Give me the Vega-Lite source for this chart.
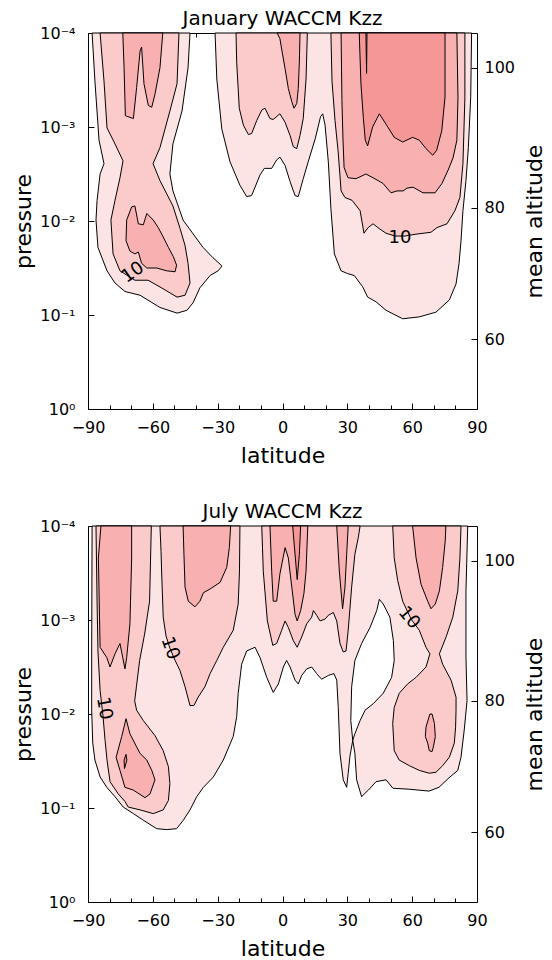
{
"$schema": "https://vega.github.io/schema/vega-lite/v6.json",
"padding": {"left": 12, "top": 8, "right": 2, "bottom": 2},
"bounds": "flush",
"spacing": 117,
"config": {
  "font": "DejaVu Sans",
  "view": {"stroke": "black", "strokeWidth": 1},
  "axis": {"labelColor": "black", "tickColor": "black", "titleColor": "black", "titleFontWeight": "normal", "labelFontSize": 16, "titleFontSize": 22, "domain": false, "grid": false, "tickWidth": 1, "labelFlush": false, "labelOverlap": false},
  "title": {"fontSize": 20, "fontWeight": "normal", "color": "black"}
},
"datasets": {
"jan": [
{"poly":"A1","lvl":1,"lat":-88.1,"lp":-4.00},{"poly":"A1","lvl":1,"lat":-86.8,"lp":-3.49},{"poly":"A1","lvl":1,"lat":-84.9,"lp":-2.86},{"poly":"A1","lvl":1,"lat":-82.6,"lp":-2.61},{"poly":"A1","lvl":1,"lat":-84.4,"lp":-2.50},{"poly":"A1","lvl":1,"lat":-85.8,"lp":-2.22},{"poly":"A1","lvl":1,"lat":-86.3,"lp":-2.01},{"poly":"A1","lvl":1,"lat":-85.4,"lp":-1.72},{"poly":"A1","lvl":1,"lat":-81.2,"lp":-1.47},{"poly":"A1","lvl":1,"lat":-77.5,"lp":-1.34},{"poly":"A1","lvl":1,"lat":-72.9,"lp":-1.25},{"poly":"A1","lvl":1,"lat":-65.9,"lp":-1.21},{"poly":"A1","lvl":1,"lat":-56.7,"lp":-1.08},{"poly":"A1","lvl":1,"lat":-48.8,"lp":-1.02},{"poly":"A1","lvl":1,"lat":-44.2,"lp":-1.05},{"poly":"A1","lvl":1,"lat":-41.4,"lp":-1.13},{"poly":"A1","lvl":1,"lat":-38.2,"lp":-1.29},{"poly":"A1","lvl":1,"lat":-33.5,"lp":-1.42},{"poly":"A1","lvl":1,"lat":-29.8,"lp":-1.47},{"poly":"A1","lvl":1,"lat":-28.0,"lp":-1.52},{"poly":"A1","lvl":1,"lat":-29.8,"lp":-1.56},{"poly":"A1","lvl":1,"lat":-32.2,"lp":-1.61},{"poly":"A1","lvl":1,"lat":-36.8,"lp":-1.72},{"poly":"A1","lvl":1,"lat":-41.9,"lp":-1.88},{"poly":"A1","lvl":1,"lat":-46.0,"lp":-2.01},{"poly":"A1","lvl":1,"lat":-50.7,"lp":-2.32},{"poly":"A1","lvl":1,"lat":-52.1,"lp":-2.50},{"poly":"A1","lvl":1,"lat":-50.7,"lp":-2.82},{"poly":"A1","lvl":1,"lat":-46.5,"lp":-3.17},{"poly":"A1","lvl":1,"lat":-43.7,"lp":-3.63},{"poly":"A1","lvl":1,"lat":-42.8,"lp":-4.00},
{"poly":"B1","lvl":1,"lat":-31.2,"lp":-4.00},{"poly":"B1","lvl":1,"lat":-30.4,"lp":-3.51},{"poly":"B1","lvl":1,"lat":-28.1,"lp":-2.98},{"poly":"B1","lvl":1,"lat":-24.3,"lp":-2.63},{"poly":"B1","lvl":1,"lat":-19.7,"lp":-2.38},{"poly":"B1","lvl":1,"lat":-16.6,"lp":-2.26},{"poly":"B1","lvl":1,"lat":-14.3,"lp":-2.27},{"poly":"B1","lvl":1,"lat":-10.4,"lp":-2.49},{"poly":"B1","lvl":1,"lat":-8.4,"lp":-2.56},{"poly":"B1","lvl":1,"lat":-5.0,"lp":-2.56},{"poly":"B1","lvl":1,"lat":-2.7,"lp":-2.65},{"poly":"B1","lvl":1,"lat":-1.2,"lp":-2.68},{"poly":"B1","lvl":1,"lat":1.2,"lp":-2.59},{"poly":"B1","lvl":1,"lat":3.5,"lp":-2.42},{"poly":"B1","lvl":1,"lat":5.8,"lp":-2.27},{"poly":"B1","lvl":1,"lat":7.3,"lp":-2.26},{"poly":"B1","lvl":1,"lat":9.6,"lp":-2.45},{"poly":"B1","lvl":1,"lat":11.9,"lp":-2.63},{"poly":"B1","lvl":1,"lat":15.2,"lp":-2.88},{"poly":"B1","lvl":1,"lat":17.6,"lp":-3.11},{"poly":"B1","lvl":1,"lat":18.6,"lp":-3.14},{"poly":"B1","lvl":1,"lat":19.7,"lp":-3.02},{"poly":"B1","lvl":1,"lat":21.2,"lp":-2.63},{"poly":"B1","lvl":1,"lat":22.4,"lp":-2.13},{"poly":"B1","lvl":1,"lat":24.0,"lp":-1.65},{"poly":"B1","lvl":1,"lat":27.1,"lp":-1.47},{"poly":"B1","lvl":1,"lat":30.2,"lp":-1.44},{"poly":"B1","lvl":1,"lat":33.2,"lp":-1.42},{"poly":"B1","lvl":1,"lat":37.1,"lp":-1.30},{"poly":"B1","lvl":1,"lat":39.4,"lp":-1.19},{"poly":"B1","lvl":1,"lat":43.3,"lp":-1.14},{"poly":"B1","lvl":1,"lat":47.9,"lp":-1.05},{"poly":"B1","lvl":1,"lat":55.6,"lp":-0.96},{"poly":"B1","lvl":1,"lat":63.3,"lp":-0.98},{"poly":"B1","lvl":1,"lat":71.0,"lp":-1.03},{"poly":"B1","lvl":1,"lat":77.2,"lp":-1.16},{"poly":"B1","lvl":1,"lat":80.3,"lp":-1.33},{"poly":"B1","lvl":1,"lat":81.7,"lp":-1.55},{"poly":"B1","lvl":1,"lat":82.6,"lp":-1.79},{"poly":"B1","lvl":1,"lat":83.5,"lp":-2.11},{"poly":"B1","lvl":1,"lat":84.9,"lp":-2.43},{"poly":"B1","lvl":1,"lat":86.0,"lp":-2.78},{"poly":"B1","lvl":1,"lat":87.1,"lp":-3.32},{"poly":"B1","lvl":1,"lat":87.5,"lp":-4.00},
{"poly":"A2","lvl":2,"lat":-84.4,"lp":-4.00},{"poly":"A2","lvl":2,"lat":-82.6,"lp":-3.49},{"poly":"A2","lvl":2,"lat":-81.2,"lp":-2.99},{"poly":"A2","lvl":2,"lat":-77.5,"lp":-2.82},{"poly":"A2","lvl":2,"lat":-73.8,"lp":-2.64},{"poly":"A2","lvl":2,"lat":-75.2,"lp":-2.46},{"poly":"A2","lvl":2,"lat":-77.5,"lp":-2.22},{"poly":"A2","lvl":2,"lat":-79.4,"lp":-2.01},{"poly":"A2","lvl":2,"lat":-78.4,"lp":-1.65},{"poly":"A2","lvl":2,"lat":-75.2,"lp":-1.47},{"poly":"A2","lvl":2,"lat":-68.3,"lp":-1.37},{"poly":"A2","lvl":2,"lat":-62.2,"lp":-1.37},{"poly":"A2","lvl":2,"lat":-55.3,"lp":-1.28},{"poly":"A2","lvl":2,"lat":-48.8,"lp":-1.19},{"poly":"A2","lvl":2,"lat":-45.1,"lp":-1.21},{"poly":"A2","lvl":2,"lat":-42.8,"lp":-1.34},{"poly":"A2","lvl":2,"lat":-43.7,"lp":-1.55},{"poly":"A2","lvl":2,"lat":-45.1,"lp":-1.74},{"poly":"A2","lvl":2,"lat":-47.4,"lp":-1.92},{"poly":"A2","lvl":2,"lat":-50.7,"lp":-2.16},{"poly":"A2","lvl":2,"lat":-56.7,"lp":-2.43},{"poly":"A2","lvl":2,"lat":-59.9,"lp":-2.61},{"poly":"A2","lvl":2,"lat":-56.7,"lp":-2.78},{"poly":"A2","lvl":2,"lat":-52.1,"lp":-3.17},{"poly":"A2","lvl":2,"lat":-48.8,"lp":-3.46},{"poly":"A2","lvl":2,"lat":-47.9,"lp":-4.00},
{"poly":"B2","lvl":2,"lat":-21.5,"lp":-4.00},{"poly":"B2","lvl":2,"lat":-21.2,"lp":-3.69},{"poly":"B2","lvl":2,"lat":-20.0,"lp":-3.20},{"poly":"B2","lvl":2,"lat":-18.1,"lp":-3.02},{"poly":"B2","lvl":2,"lat":-15.8,"lp":-2.92},{"poly":"B2","lvl":2,"lat":-14.3,"lp":-2.93},{"poly":"B2","lvl":2,"lat":-11.9,"lp":-3.07},{"poly":"B2","lvl":2,"lat":-9.6,"lp":-3.18},{"poly":"B2","lvl":2,"lat":-8.1,"lp":-3.20},{"poly":"B2","lvl":2,"lat":-5.8,"lp":-3.09},{"poly":"B2","lvl":2,"lat":-4.3,"lp":-3.08},{"poly":"B2","lvl":2,"lat":-1.2,"lp":-3.14},{"poly":"B2","lvl":2,"lat":1.2,"lp":-3.05},{"poly":"B2","lvl":2,"lat":3.5,"lp":-2.91},{"poly":"B2","lvl":2,"lat":5.0,"lp":-2.79},{"poly":"B2","lvl":2,"lat":6.6,"lp":-2.77},{"poly":"B2","lvl":2,"lat":8.1,"lp":-2.91},{"poly":"B2","lvl":2,"lat":9.6,"lp":-3.09},{"poly":"B2","lvl":2,"lat":10.9,"lp":-3.51},{"poly":"B2","lvl":2,"lat":11.5,"lp":-4.00},
{"poly":"C2","lvl":2,"lat":22.4,"lp":-4.00},{"poly":"C2","lvl":2,"lat":22.9,"lp":-3.49},{"poly":"C2","lvl":2,"lat":24.3,"lp":-3.07},{"poly":"C2","lvl":2,"lat":25.7,"lp":-2.75},{"poly":"C2","lvl":2,"lat":26.6,"lp":-2.48},{"poly":"C2","lvl":2,"lat":27.1,"lp":-2.32},{"poly":"C2","lvl":2,"lat":28.9,"lp":-2.25},{"poly":"C2","lvl":2,"lat":32.2,"lp":-2.22},{"poly":"C2","lvl":2,"lat":35.9,"lp":-2.11},{"poly":"C2","lvl":2,"lat":37.7,"lp":-1.87},{"poly":"C2","lvl":2,"lat":39.6,"lp":-1.93},{"poly":"C2","lvl":2,"lat":41.9,"lp":-1.97},{"poly":"C2","lvl":2,"lat":44.7,"lp":-1.92},{"poly":"C2","lvl":2,"lat":47.9,"lp":-1.87},{"poly":"C2","lvl":2,"lat":52.1,"lp":-1.84},{"poly":"C2","lvl":2,"lat":56.7,"lp":-1.84},{"poly":"C2","lvl":2,"lat":61.8,"lp":-1.86},{"poly":"C2","lvl":2,"lat":68.7,"lp":-1.88},{"poly":"C2","lvl":2,"lat":71.5,"lp":-1.93},{"poly":"C2","lvl":2,"lat":76.1,"lp":-1.97},{"poly":"C2","lvl":2,"lat":79.8,"lp":-2.11},{"poly":"C2","lvl":2,"lat":82.1,"lp":-2.25},{"poly":"C2","lvl":2,"lat":83.5,"lp":-2.61},{"poly":"C2","lvl":2,"lat":84.4,"lp":-3.31},{"poly":"C2","lvl":2,"lat":84.4,"lp":-4.00},
{"poly":"A3","lvl":3,"lat":-73.9,"lp":-4.00},{"poly":"A3","lvl":3,"lat":-73.3,"lp":-3.63},{"poly":"A3","lvl":3,"lat":-72.7,"lp":-3.12},{"poly":"A3","lvl":3,"lat":-69.0,"lp":-3.09},{"poly":"A3","lvl":3,"lat":-67.5,"lp":-3.42},{"poly":"A3","lvl":3,"lat":-65.9,"lp":-3.81},{"poly":"A3","lvl":3,"lat":-65.2,"lp":-3.85},{"poly":"A3","lvl":3,"lat":-64.1,"lp":-3.46},{"poly":"A3","lvl":3,"lat":-62.1,"lp":-3.23},{"poly":"A3","lvl":3,"lat":-60.5,"lp":-3.21},{"poly":"A3","lvl":3,"lat":-59.0,"lp":-3.35},{"poly":"A3","lvl":3,"lat":-56.7,"lp":-3.63},{"poly":"A3","lvl":3,"lat":-55.4,"lp":-4.00},
{"poly":"A3b","lvl":3,"lat":-72.1,"lp":-2.01},{"poly":"A3b","lvl":3,"lat":-69.8,"lp":-2.15},{"poly":"A3b","lvl":3,"lat":-68.3,"lp":-2.16},{"poly":"A3b","lvl":3,"lat":-66.7,"lp":-1.97},{"poly":"A3b","lvl":3,"lat":-64.4,"lp":-1.96},{"poly":"A3b","lvl":3,"lat":-62.8,"lp":-2.08},{"poly":"A3b","lvl":3,"lat":-59.8,"lp":-2.01},{"poly":"A3b","lvl":3,"lat":-57.5,"lp":-1.93},{"poly":"A3b","lvl":3,"lat":-55.2,"lp":-1.83},{"poly":"A3b","lvl":3,"lat":-52.8,"lp":-1.72},{"poly":"A3b","lvl":3,"lat":-50.5,"lp":-1.62},{"poly":"A3b","lvl":3,"lat":-49.0,"lp":-1.53},{"poly":"A3b","lvl":3,"lat":-49.7,"lp":-1.46},{"poly":"A3b","lvl":3,"lat":-53.6,"lp":-1.47},{"poly":"A3b","lvl":3,"lat":-58.2,"lp":-1.50},{"poly":"A3b","lvl":3,"lat":-62.8,"lp":-1.50},{"poly":"A3b","lvl":3,"lat":-65.2,"lp":-1.55},{"poly":"A3b","lvl":3,"lat":-66.7,"lp":-1.67},{"poly":"A3b","lvl":3,"lat":-68.3,"lp":-1.65},{"poly":"A3b","lvl":3,"lat":-70.6,"lp":-1.68},{"poly":"A3b","lvl":3,"lat":-72.4,"lp":-1.79},
{"poly":"B3","lvl":3,"lat":-2.5,"lp":-4.00},{"poly":"B3","lvl":3,"lat":-1.2,"lp":-3.94},{"poly":"B3","lvl":3,"lat":-0.4,"lp":-3.83},{"poly":"B3","lvl":3,"lat":1.2,"lp":-3.62},{"poly":"B3","lvl":3,"lat":2.7,"lp":-3.41},{"poly":"B3","lvl":3,"lat":4.3,"lp":-3.27},{"poly":"B3","lvl":3,"lat":5.3,"lp":-3.20},{"poly":"B3","lvl":3,"lat":6.6,"lp":-3.25},{"poly":"B3","lvl":3,"lat":7.3,"lp":-3.41},{"poly":"B3","lvl":3,"lat":7.8,"lp":-3.69},{"poly":"B3","lvl":3,"lat":8.1,"lp":-4.00},
{"poly":"C3","lvl":3,"lat":27.1,"lp":-4.00},{"poly":"C3","lvl":3,"lat":27.5,"lp":-3.28},{"poly":"C3","lvl":3,"lat":28.0,"lp":-2.86},{"poly":"C3","lvl":3,"lat":28.5,"lp":-2.57},{"poly":"C3","lvl":3,"lat":30.3,"lp":-2.46},{"poly":"C3","lvl":3,"lat":34.0,"lp":-2.45},{"poly":"C3","lvl":3,"lat":38.6,"lp":-2.50},{"poly":"C3","lvl":3,"lat":41.9,"lp":-2.46},{"poly":"C3","lvl":3,"lat":46.5,"lp":-2.40},{"poly":"C3","lvl":3,"lat":50.2,"lp":-2.30},{"poly":"C3","lvl":3,"lat":53.0,"lp":-2.32},{"poly":"C3","lvl":3,"lat":55.8,"lp":-2.32},{"poly":"C3","lvl":3,"lat":57.6,"lp":-2.35},{"poly":"C3","lvl":3,"lat":60.4,"lp":-2.36},{"poly":"C3","lvl":3,"lat":65.0,"lp":-2.30},{"poly":"C3","lvl":3,"lat":70.6,"lp":-2.30},{"poly":"C3","lvl":3,"lat":73.8,"lp":-2.40},{"poly":"C3","lvl":3,"lat":76.6,"lp":-2.54},{"poly":"C3","lvl":3,"lat":78.9,"lp":-2.67},{"poly":"C3","lvl":3,"lat":80.7,"lp":-2.86},{"poly":"C3","lvl":3,"lat":81.2,"lp":-3.31},{"poly":"C3","lvl":3,"lat":80.7,"lp":-4.00},
{"poly":"C4","lvl":4,"lat":35.5,"lp":-4.00},{"poly":"C4","lvl":4,"lat":36.3,"lp":-3.46},{"poly":"C4","lvl":4,"lat":37.4,"lp":-3.10},{"poly":"C4","lvl":4,"lat":38.3,"lp":-2.86},{"poly":"C4","lvl":4,"lat":39.4,"lp":-2.80},{"poly":"C4","lvl":4,"lat":41.7,"lp":-3.00},{"poly":"C4","lvl":4,"lat":44.8,"lp":-3.14},{"poly":"C4","lvl":4,"lat":47.9,"lp":-3.03},{"poly":"C4","lvl":4,"lat":51.7,"lp":-2.89},{"poly":"C4","lvl":4,"lat":55.6,"lp":-2.84},{"poly":"C4","lvl":4,"lat":60.2,"lp":-2.89},{"poly":"C4","lvl":4,"lat":63.3,"lp":-2.86},{"poly":"C4","lvl":4,"lat":66.4,"lp":-2.77},{"poly":"C4","lvl":4,"lat":69.5,"lp":-2.70},{"poly":"C4","lvl":4,"lat":71.3,"lp":-2.75},{"poly":"C4","lvl":4,"lat":73.7,"lp":-2.96},{"poly":"C4","lvl":4,"lat":75.2,"lp":-3.32},{"poly":"C4","lvl":4,"lat":75.2,"lp":-4.00},{"poly":"C4","lvl":4,"lat":39.1,"lp":-4.00},{"poly":"C4","lvl":4,"lat":38.9,"lp":-3.57},{"poly":"C4","lvl":4,"lat":38.6,"lp":-4.00}
],
"jul": [
{"poly":"L1","lvl":1,"lat":-88.1,"lp":-4.00},{"poly":"L1","lvl":1,"lat":-88.3,"lp":-2.67},{"poly":"L1","lvl":1,"lat":-88.3,"lp":-2.04},{"poly":"L1","lvl":1,"lat":-87.8,"lp":-1.69},{"poly":"L1","lvl":1,"lat":-86.8,"lp":-1.51},{"poly":"L1","lvl":1,"lat":-84.4,"lp":-1.33},{"poly":"L1","lvl":1,"lat":-81.3,"lp":-1.22},{"poly":"L1","lvl":1,"lat":-77.5,"lp":-1.12},{"poly":"L1","lvl":1,"lat":-73.7,"lp":-1.01},{"poly":"L1","lvl":1,"lat":-69.0,"lp":-0.94},{"poly":"L1","lvl":1,"lat":-64.4,"lp":-0.87},{"poly":"L1","lvl":1,"lat":-58.2,"lp":-0.78},{"poly":"L1","lvl":1,"lat":-53.6,"lp":-0.77},{"poly":"L1","lvl":1,"lat":-49.0,"lp":-0.78},{"poly":"L1","lvl":1,"lat":-45.9,"lp":-0.87},{"poly":"L1","lvl":1,"lat":-42.8,"lp":-0.98},{"poly":"L1","lvl":1,"lat":-39.7,"lp":-1.12},{"poly":"L1","lvl":1,"lat":-36.6,"lp":-1.22},{"poly":"L1","lvl":1,"lat":-32.0,"lp":-1.33},{"poly":"L1","lvl":1,"lat":-27.4,"lp":-1.51},{"poly":"L1","lvl":1,"lat":-22.8,"lp":-1.76},{"poly":"L1","lvl":1,"lat":-21.2,"lp":-1.97},{"poly":"L1","lvl":1,"lat":-20.5,"lp":-2.22},{"poly":"L1","lvl":1,"lat":-18.9,"lp":-2.53},{"poly":"L1","lvl":1,"lat":-16.6,"lp":-2.67},{"poly":"L1","lvl":1,"lat":-12.7,"lp":-2.71},{"poly":"L1","lvl":1,"lat":-10.4,"lp":-2.60},{"poly":"L1","lvl":1,"lat":-7.3,"lp":-2.39},{"poly":"L1","lvl":1,"lat":-4.3,"lp":-2.23},{"poly":"L1","lvl":1,"lat":-1.9,"lp":-2.32},{"poly":"L1","lvl":1,"lat":0.4,"lp":-2.50},{"poly":"L1","lvl":1,"lat":1.9,"lp":-2.57},{"poly":"L1","lvl":1,"lat":3.5,"lp":-2.50},{"poly":"L1","lvl":1,"lat":5.8,"lp":-2.36},{"poly":"L1","lvl":1,"lat":7.3,"lp":-2.32},{"poly":"L1","lvl":1,"lat":8.9,"lp":-2.41},{"poly":"L1","lvl":1,"lat":11.2,"lp":-2.48},{"poly":"L1","lvl":1,"lat":13.5,"lp":-2.50},{"poly":"L1","lvl":1,"lat":15.8,"lp":-2.43},{"poly":"L1","lvl":1,"lat":18.1,"lp":-2.37},{"poly":"L1","lvl":1,"lat":21.2,"lp":-2.41},{"poly":"L1","lvl":1,"lat":23.8,"lp":-2.43},{"poly":"L1","lvl":1,"lat":25.1,"lp":-2.36},{"poly":"L1","lvl":1,"lat":25.8,"lp":-2.07},{"poly":"L1","lvl":1,"lat":26.6,"lp":-1.58},{"poly":"L1","lvl":1,"lat":28.1,"lp":-1.30},{"poly":"L1","lvl":1,"lat":29.7,"lp":-1.22},{"poly":"L1","lvl":1,"lat":30.4,"lp":-1.37},{"poly":"L1","lvl":1,"lat":31.2,"lp":-1.55},{"poly":"L1","lvl":1,"lat":32.5,"lp":-1.72},{"poly":"L1","lvl":1,"lat":33.5,"lp":-1.58},{"poly":"L1","lvl":1,"lat":34.3,"lp":-1.30},{"poly":"L1","lvl":1,"lat":36.6,"lp":-1.12},{"poly":"L1","lvl":1,"lat":39.7,"lp":-1.19},{"poly":"L1","lvl":1,"lat":43.3,"lp":-1.28},{"poly":"L1","lvl":1,"lat":47.9,"lp":-1.30},{"poly":"L1","lvl":1,"lat":51.1,"lp":-1.21},{"poly":"L1","lvl":1,"lat":58.5,"lp":-1.20},{"poly":"L1","lvl":1,"lat":67.8,"lp":-1.18},{"poly":"L1","lvl":1,"lat":72.4,"lp":-1.22},{"poly":"L1","lvl":1,"lat":77.0,"lp":-1.32},{"poly":"L1","lvl":1,"lat":81.1,"lp":-1.40},{"poly":"L1","lvl":1,"lat":82.6,"lp":-1.54},{"poly":"L1","lvl":1,"lat":84.1,"lp":-1.83},{"poly":"L1","lvl":1,"lat":85.4,"lp":-2.14},{"poly":"L1","lvl":1,"lat":84.9,"lp":-2.60},{"poly":"L1","lvl":1,"lat":84.9,"lp":-3.31},{"poly":"L1","lvl":1,"lat":85.7,"lp":-4.00},
{"poly":"H","lvl":0,"lat":44.8,"lp":-3.22},{"poly":"H","lvl":0,"lat":43.6,"lp":-3.10},{"poly":"H","lvl":0,"lat":40.5,"lp":-2.92},{"poly":"H","lvl":0,"lat":36.6,"lp":-2.75},{"poly":"H","lvl":0,"lat":33.5,"lp":-2.57},{"poly":"H","lvl":0,"lat":32.0,"lp":-2.29},{"poly":"H","lvl":0,"lat":31.6,"lp":-1.93},{"poly":"H","lvl":0,"lat":32.5,"lp":-1.72},{"poly":"H","lvl":0,"lat":33.5,"lp":-1.79},{"poly":"H","lvl":0,"lat":35.9,"lp":-1.93},{"poly":"H","lvl":0,"lat":38.2,"lp":-2.04},{"poly":"H","lvl":0,"lat":42.0,"lp":-2.11},{"poly":"H","lvl":0,"lat":46.6,"lp":-2.22},{"poly":"H","lvl":0,"lat":50.5,"lp":-2.39},{"poly":"H","lvl":0,"lat":51.7,"lp":-2.57},{"poly":"H","lvl":0,"lat":51.3,"lp":-2.78},{"poly":"H","lvl":0,"lat":49.7,"lp":-3.03},{"poly":"H","lvl":0,"lat":46.6,"lp":-3.17},
{"poly":"A2","lvl":2,"lat":-86.3,"lp":-4.00},{"poly":"A2","lvl":2,"lat":-85.8,"lp":-3.20},{"poly":"A2","lvl":2,"lat":-85.4,"lp":-2.67},{"poly":"A2","lvl":2,"lat":-84.4,"lp":-2.25},{"poly":"A2","lvl":2,"lat":-83.1,"lp":-1.99},{"poly":"A2","lvl":2,"lat":-82.1,"lp":-1.72},{"poly":"A2","lvl":2,"lat":-81.2,"lp":-1.51},{"poly":"A2","lvl":2,"lat":-79.8,"lp":-1.28},{"poly":"A2","lvl":2,"lat":-76.0,"lp":-1.15},{"poly":"A2","lvl":2,"lat":-72.9,"lp":-1.07},{"poly":"A2","lvl":2,"lat":-71.4,"lp":-1.01},{"poly":"A2","lvl":2,"lat":-65.9,"lp":-0.98},{"poly":"A2","lvl":2,"lat":-59.8,"lp":-0.94},{"poly":"A2","lvl":2,"lat":-55.2,"lp":-0.98},{"poly":"A2","lvl":2,"lat":-52.8,"lp":-1.08},{"poly":"A2","lvl":2,"lat":-52.1,"lp":-1.26},{"poly":"A2","lvl":2,"lat":-52.8,"lp":-1.44},{"poly":"A2","lvl":2,"lat":-55.2,"lp":-1.61},{"poly":"A2","lvl":2,"lat":-59.0,"lp":-1.77},{"poly":"A2","lvl":2,"lat":-64.4,"lp":-1.93},{"poly":"A2","lvl":2,"lat":-67.5,"lp":-2.04},{"poly":"A2","lvl":2,"lat":-68.4,"lp":-2.14},{"poly":"A2","lvl":2,"lat":-67.6,"lp":-2.29},{"poly":"A2","lvl":2,"lat":-66.1,"lp":-2.57},{"poly":"A2","lvl":2,"lat":-63.8,"lp":-2.85},{"poly":"A2","lvl":2,"lat":-61.5,"lp":-3.20},{"poly":"A2","lvl":2,"lat":-60.7,"lp":-4.00},
{"poly":"B2","lvl":2,"lat":-56.7,"lp":-4.00},{"poly":"B2","lvl":2,"lat":-56.2,"lp":-3.73},{"poly":"B2","lvl":2,"lat":-55.9,"lp":-3.49},{"poly":"B2","lvl":2,"lat":-55.2,"lp":-3.03},{"poly":"B2","lvl":2,"lat":-53.9,"lp":-2.83},{"poly":"B2","lvl":2,"lat":-52.1,"lp":-2.70},{"poly":"B2","lvl":2,"lat":-49.7,"lp":-2.57},{"poly":"B2","lvl":2,"lat":-47.4,"lp":-2.46},{"poly":"B2","lvl":2,"lat":-45.1,"lp":-2.29},{"poly":"B2","lvl":2,"lat":-42.8,"lp":-2.09},{"poly":"B2","lvl":2,"lat":-41.0,"lp":-2.09},{"poly":"B2","lvl":2,"lat":-39.0,"lp":-2.18},{"poly":"B2","lvl":2,"lat":-35.9,"lp":-2.29},{"poly":"B2","lvl":2,"lat":-33.5,"lp":-2.43},{"poly":"B2","lvl":2,"lat":-30.4,"lp":-2.57},{"poly":"B2","lvl":2,"lat":-27.4,"lp":-2.71},{"poly":"B2","lvl":2,"lat":-22.8,"lp":-2.89},{"poly":"B2","lvl":2,"lat":-20.5,"lp":-3.17},{"poly":"B2","lvl":2,"lat":-19.9,"lp":-3.52},{"poly":"B2","lvl":2,"lat":-19.7,"lp":-4.00},
{"poly":"C2","lvl":2,"lat":-9.6,"lp":-4.00},{"poly":"C2","lvl":2,"lat":-8.9,"lp":-3.52},{"poly":"C2","lvl":2,"lat":-7.0,"lp":-2.99},{"poly":"C2","lvl":2,"lat":-4.5,"lp":-2.73},{"poly":"C2","lvl":2,"lat":-2.7,"lp":-2.75},{"poly":"C2","lvl":2,"lat":-0.4,"lp":-2.89},{"poly":"C2","lvl":2,"lat":1.2,"lp":-2.99},{"poly":"C2","lvl":2,"lat":2.7,"lp":-2.92},{"poly":"C2","lvl":2,"lat":5.0,"lp":-2.78},{"poly":"C2","lvl":2,"lat":6.8,"lp":-2.71},{"poly":"C2","lvl":2,"lat":8.9,"lp":-2.82},{"poly":"C2","lvl":2,"lat":11.2,"lp":-2.96},{"poly":"C2","lvl":2,"lat":13.5,"lp":-3.03},{"poly":"C2","lvl":2,"lat":14.3,"lp":-3.10},{"poly":"C2","lvl":2,"lat":15.8,"lp":-3.05},{"poly":"C2","lvl":2,"lat":17.4,"lp":-2.99},{"poly":"C2","lvl":2,"lat":19.7,"lp":-3.01},{"poly":"C2","lvl":2,"lat":21.2,"lp":-3.05},{"poly":"C2","lvl":2,"lat":23.5,"lp":-3.08},{"poly":"C2","lvl":2,"lat":25.1,"lp":-2.99},{"poly":"C2","lvl":2,"lat":26.6,"lp":-2.75},{"poly":"C2","lvl":2,"lat":28.1,"lp":-2.66},{"poly":"C2","lvl":2,"lat":29.4,"lp":-2.67},{"poly":"C2","lvl":2,"lat":30.4,"lp":-2.89},{"poly":"C2","lvl":2,"lat":32.0,"lp":-3.35},{"poly":"C2","lvl":2,"lat":33.5,"lp":-3.70},{"poly":"C2","lvl":2,"lat":35.1,"lp":-3.88},{"poly":"C2","lvl":2,"lat":35.9,"lp":-4.00},
{"poly":"D2","lvl":2,"lat":51.0,"lp":-4.00},{"poly":"D2","lvl":2,"lat":51.7,"lp":-3.66},{"poly":"D2","lvl":2,"lat":53.3,"lp":-3.42},{"poly":"D2","lvl":2,"lat":55.6,"lp":-3.20},{"poly":"D2","lvl":2,"lat":59.5,"lp":-3.01},{"poly":"D2","lvl":2,"lat":63.3,"lp":-2.89},{"poly":"D2","lvl":2,"lat":66.4,"lp":-2.71},{"poly":"D2","lvl":2,"lat":68.2,"lp":-2.64},{"poly":"D2","lvl":2,"lat":66.4,"lp":-2.50},{"poly":"D2","lvl":2,"lat":61.8,"lp":-2.39},{"poly":"D2","lvl":2,"lat":57.9,"lp":-2.32},{"poly":"D2","lvl":2,"lat":54.0,"lp":-2.22},{"poly":"D2","lvl":2,"lat":51.7,"lp":-2.07},{"poly":"D2","lvl":2,"lat":51.0,"lp":-1.90},{"poly":"D2","lvl":2,"lat":51.7,"lp":-1.61},{"poly":"D2","lvl":2,"lat":54.0,"lp":-1.51},{"poly":"D2","lvl":2,"lat":58.7,"lp":-1.45},{"poly":"D2","lvl":2,"lat":63.3,"lp":-1.40},{"poly":"D2","lvl":2,"lat":67.9,"lp":-1.37},{"poly":"D2","lvl":2,"lat":71.0,"lp":-1.38},{"poly":"D2","lvl":2,"lat":74.1,"lp":-1.45},{"poly":"D2","lvl":2,"lat":77.2,"lp":-1.54},{"poly":"D2","lvl":2,"lat":79.5,"lp":-1.69},{"poly":"D2","lvl":2,"lat":80.1,"lp":-1.86},{"poly":"D2","lvl":2,"lat":80.3,"lp":-2.04},{"poly":"D2","lvl":2,"lat":80.3,"lp":-2.18},{"poly":"D2","lvl":2,"lat":78.0,"lp":-2.36},{"poly":"D2","lvl":2,"lat":74.1,"lp":-2.53},{"poly":"D2","lvl":2,"lat":72.6,"lp":-2.64},{"poly":"D2","lvl":2,"lat":75.7,"lp":-2.82},{"poly":"D2","lvl":2,"lat":78.8,"lp":-3.03},{"poly":"D2","lvl":2,"lat":81.1,"lp":-3.31},{"poly":"D2","lvl":2,"lat":82.1,"lp":-3.66},{"poly":"D2","lvl":2,"lat":82.6,"lp":-4.00},
{"poly":"A3","lvl":3,"lat":-84.0,"lp":-4.00},{"poly":"A3","lvl":3,"lat":-85.2,"lp":-3.66},{"poly":"A3","lvl":3,"lat":-84.4,"lp":-2.71},{"poly":"A3","lvl":3,"lat":-81.3,"lp":-2.60},{"poly":"A3","lvl":3,"lat":-79.8,"lp":-2.50},{"poly":"A3","lvl":3,"lat":-77.5,"lp":-2.64},{"poly":"A3","lvl":3,"lat":-75.2,"lp":-2.75},{"poly":"A3","lvl":3,"lat":-72.9,"lp":-2.48},{"poly":"A3","lvl":3,"lat":-72.1,"lp":-2.60},{"poly":"A3","lvl":3,"lat":-70.6,"lp":-2.96},{"poly":"A3","lvl":3,"lat":-69.8,"lp":-3.66},{"poly":"A3","lvl":3,"lat":-69.8,"lp":-4.00},
{"poly":"A3b","lvl":3,"lat":-72.4,"lp":-1.95},{"poly":"A3b","lvl":3,"lat":-74.4,"lp":-1.76},{"poly":"A3b","lvl":3,"lat":-77.0,"lp":-1.54},{"poly":"A3b","lvl":3,"lat":-75.2,"lp":-1.40},{"poly":"A3b","lvl":3,"lat":-72.9,"lp":-1.22},{"poly":"A3b","lvl":3,"lat":-69.0,"lp":-1.19},{"poly":"A3b","lvl":3,"lat":-63.6,"lp":-1.11},{"poly":"A3b","lvl":3,"lat":-61.3,"lp":-1.15},{"poly":"A3b","lvl":3,"lat":-59.0,"lp":-1.30},{"poly":"A3b","lvl":3,"lat":-60.5,"lp":-1.40},{"poly":"A3b","lvl":3,"lat":-62.8,"lp":-1.51},{"poly":"A3b","lvl":3,"lat":-65.9,"lp":-1.58},{"poly":"A3b","lvl":3,"lat":-67.5,"lp":-1.65},{"poly":"A3b","lvl":3,"lat":-70.6,"lp":-1.79},
{"poly":"B3","lvl":3,"lat":-46.0,"lp":-4.00},{"poly":"B3","lvl":3,"lat":-45.6,"lp":-3.70},{"poly":"B3","lvl":3,"lat":-45.1,"lp":-3.35},{"poly":"B3","lvl":3,"lat":-43.6,"lp":-3.20},{"poly":"B3","lvl":3,"lat":-40.5,"lp":-3.14},{"poly":"B3","lvl":3,"lat":-38.2,"lp":-3.20},{"poly":"B3","lvl":3,"lat":-36.6,"lp":-3.29},{"poly":"B3","lvl":3,"lat":-33.5,"lp":-3.33},{"poly":"B3","lvl":3,"lat":-28.9,"lp":-3.40},{"poly":"B3","lvl":3,"lat":-25.8,"lp":-3.56},{"poly":"B3","lvl":3,"lat":-24.6,"lp":-3.77},{"poly":"B3","lvl":3,"lat":-24.0,"lp":-4.00},
{"poly":"C3","lvl":3,"lat":-5.8,"lp":-4.00},{"poly":"C3","lvl":3,"lat":-5.0,"lp":-3.52},{"poly":"C3","lvl":3,"lat":-4.3,"lp":-3.20},{"poly":"C3","lvl":3,"lat":-2.7,"lp":-3.20},{"poly":"C3","lvl":3,"lat":-1.2,"lp":-3.49},{"poly":"C3","lvl":3,"lat":1.2,"lp":-3.77},{"poly":"C3","lvl":3,"lat":2.7,"lp":-3.66},{"poly":"C3","lvl":3,"lat":4.3,"lp":-3.35},{"poly":"C3","lvl":3,"lat":5.8,"lp":-3.06},{"poly":"C3","lvl":3,"lat":6.8,"lp":-2.99},{"poly":"C3","lvl":3,"lat":8.4,"lp":-3.10},{"poly":"C3","lvl":3,"lat":9.9,"lp":-3.28},{"poly":"C3","lvl":3,"lat":10.9,"lp":-3.52},{"poly":"C3","lvl":3,"lat":11.7,"lp":-4.00},
{"poly":"C3s","lvl":3,"lat":25.1,"lp":-4.00},{"poly":"C3s","lvl":3,"lat":26.3,"lp":-3.52},{"poly":"C3s","lvl":3,"lat":27.8,"lp":-3.12},{"poly":"C3s","lvl":3,"lat":28.9,"lp":-3.35},{"poly":"C3s","lvl":3,"lat":29.7,"lp":-3.70},{"poly":"C3s","lvl":3,"lat":30.4,"lp":-4.00},
{"poly":"D3","lvl":3,"lat":60.2,"lp":-4.00},{"poly":"D3","lvl":3,"lat":61.8,"lp":-3.66},{"poly":"D3","lvl":3,"lat":64.1,"lp":-3.38},{"poly":"D3","lvl":3,"lat":67.2,"lp":-3.20},{"poly":"D3","lvl":3,"lat":68.7,"lp":-3.12},{"poly":"D3","lvl":3,"lat":70.7,"lp":-3.17},{"poly":"D3","lvl":3,"lat":72.6,"lp":-3.31},{"poly":"D3","lvl":3,"lat":74.1,"lp":-3.56},{"poly":"D3","lvl":3,"lat":75.3,"lp":-3.84},{"poly":"D3","lvl":3,"lat":75.6,"lp":-4.00},
{"poly":"D3b","lvl":3,"lat":68.2,"lp":-2.00},{"poly":"D3b","lvl":3,"lat":66.4,"lp":-1.86},{"poly":"D3b","lvl":3,"lat":66.1,"lp":-1.76},{"poly":"D3b","lvl":3,"lat":67.2,"lp":-1.69},{"poly":"D3b","lvl":3,"lat":67.9,"lp":-1.61},{"poly":"D3b","lvl":3,"lat":69.2,"lp":-1.60},{"poly":"D3b","lvl":3,"lat":69.8,"lp":-1.65},{"poly":"D3b","lvl":3,"lat":70.7,"lp":-1.76},{"poly":"D3b","lvl":3,"lat":70.3,"lp":-1.90},{"poly":"D3b","lvl":3,"lat":69.2,"lp":-2.00},
{"poly":"A4","lvl":4,"lat":-73.1,"lp":-1.42},{"poly":"A4","lvl":4,"lat":-73.3,"lp":-1.51},{"poly":"A4","lvl":4,"lat":-72.4,"lp":-1.57},{"poly":"A4","lvl":4,"lat":-72.0,"lp":-1.51},
{"poly":"C4","lvl":4,"lat":4.7,"lp":-4.00},{"poly":"C4","lvl":4,"lat":5.8,"lp":-3.70},{"poly":"C4","lvl":4,"lat":6.8,"lp":-3.43},{"poly":"C4","lvl":4,"lat":7.8,"lp":-3.70},{"poly":"C4","lvl":4,"lat":8.4,"lp":-4.00}
]
},
"vconcat": [
{
  "width": 389, "height": 376,
  "title": {"text": "January WACCM Kzz", "offset": -20, "baseline": "alphabetic"},
  "layer": [
    {"data": {"name": "jan"}, "transform": [{"filter": "datum.lvl == 1"}],
     "mark": {"type": "line", "interpolate": "linear-closed", "fill": "#fde4e4", "stroke": "black", "strokeWidth": 1},
     "encoding": {
       "x": {"field": "lat", "type": "quantitative", "scale": {"domain": [-90, 90], "nice": false, "zero": false},
             "axis": {"values": [-90, -60, -30, 0, 30, 60, 90], "format": "d", "tickSize": -6, "labelPadding": 16, "title": "latitude", "titlePadding": 10}},
       "y": {"field": "lp", "type": "quantitative", "scale": {"domain": [-4, 0], "reverse": true, "nice": false, "zero": false},
             "axis": {"values": [-4, -3, -2, -1, 0], "tickSize": -6, "labelPadding": 19, "labelExpr": "datum.value == 0 ? '10⁰' : datum.value == -1 ? '10⁻¹' : datum.value == -2 ? '10⁻²' : datum.value == -3 ? '10⁻³' : '10⁻⁴'", "title": "pressure", "titlePadding": 4}},
       "detail": {"field": "poly"},
       "order": {"value": null}
     }},
    {"data": {"name": "jan"}, "transform": [{"filter": "datum.lvl == 2"}],
     "mark": {"type": "line", "interpolate": "linear-closed", "fill": "#fbcaca", "stroke": "black", "strokeWidth": 1},
     "encoding": {
       "x": {"field": "lat", "type": "quantitative", "scale": {"domain": [-90, 90], "nice": false, "zero": false},
             "axis": {"orient": "bottom", "values": [-80, -70, -50, -40, -20, -10, 10, 20, 40, 50, 70, 80], "tickSize": -4, "labels": false, "title": null}},
       "y": {"field": "lp", "type": "quantitative", "scale": {"domain": [-4, 0], "reverse": true, "nice": false, "zero": false},
             "axis": {"orient": "right", "values": [-3.63, -2.14, -0.74], "tickSize": -6, "labelPadding": 13, "labelExpr": "datum.value < -3 ? '100' : datum.value < -1.5 ? '80' : '60'", "title": "mean altitude", "titleAngle": 270, "titleBaseline": "top", "titlePadding": 10}},
       "detail": {"field": "poly"},
       "order": {"value": null}
     }},
    {"data": {"name": "jan"}, "transform": [{"filter": "datum.lvl == 3"}],
     "mark": {"type": "line", "interpolate": "linear-closed", "fill": "#f9b0b0", "stroke": "black", "strokeWidth": 1},
     "encoding": {
       "x": {"field": "lat", "type": "quantitative", "scale": {"domain": [-90, 90], "nice": false, "zero": false},
             "axis": {"orient": "top", "values": [-80, -70, -60, -50, -40, -30, -20, -10, 0, 10, 20, 30, 40, 50, 60, 70, 80], "tickSize": -4, "labels": false, "title": null}},
       "y": {"field": "lp", "type": "quantitative", "scale": {"domain": [-4, 0], "reverse": true, "nice": false, "zero": false}, "axis": null},
       "detail": {"field": "poly"},
       "order": {"value": null}
     }},
    {"data": {"name": "jan"}, "transform": [{"filter": "datum.lvl == 4"}],
     "mark": {"type": "line", "interpolate": "linear-closed", "fill": "#f69797", "stroke": "black", "strokeWidth": 1},
     "encoding": {
       "x": {"field": "lat", "type": "quantitative", "scale": {"domain": [-90, 90], "nice": false, "zero": false}, "axis": null},
       "y": {"field": "lp", "type": "quantitative", "scale": {"domain": [-4, 0], "reverse": true, "nice": false, "zero": false}, "axis": null},
       "detail": {"field": "poly"},
       "order": {"value": null}
     }},
    {"data": {"values": [{"lat": -69.2, "lp": -1.45}]},
     "mark": {"type": "text", "text": "10", "fontSize": 18, "angle": -35, "align": "center", "baseline": "middle", "color": "black"},
     "encoding": {
       "x": {"field": "lat", "type": "quantitative", "scale": {"domain": [-90, 90], "nice": false, "zero": false}, "axis": null},
       "y": {"field": "lp", "type": "quantitative", "scale": {"domain": [-4, 0], "reverse": true, "nice": false, "zero": false}, "axis": null}
     }},
    {"data": {"values": [{"lat": 54.4, "lp": -1.82}]},
     "mark": {"type": "text", "text": "10", "fontSize": 18, "angle": 0, "align": "center", "baseline": "middle", "color": "black"},
     "encoding": {
       "x": {"field": "lat", "type": "quantitative", "scale": {"domain": [-90, 90], "nice": false, "zero": false}, "axis": null},
       "y": {"field": "lp", "type": "quantitative", "scale": {"domain": [-4, 0], "reverse": true, "nice": false, "zero": false}, "axis": null}
     }}
  ],
  "resolve": {"axis": {"x": "independent", "y": "independent"}}
},
{
  "width": 389, "height": 376,
  "title": {"text": "July WACCM Kzz", "offset": -20, "baseline": "alphabetic"},
  "layer": [
    {"data": {"name": "jul"}, "transform": [{"filter": "datum.lvl == 1"}],
     "mark": {"type": "line", "interpolate": "linear-closed", "fill": "#fde4e4", "stroke": "black", "strokeWidth": 1},
     "encoding": {
       "x": {"field": "lat", "type": "quantitative", "scale": {"domain": [-90, 90], "nice": false, "zero": false},
             "axis": {"values": [-90, -60, -30, 0, 30, 60, 90], "format": "d", "tickSize": -6, "labelPadding": 16, "title": "latitude", "titlePadding": 10}},
       "y": {"field": "lp", "type": "quantitative", "scale": {"domain": [-4, 0], "reverse": true, "nice": false, "zero": false},
             "axis": {"values": [-4, -3, -2, -1, 0], "tickSize": -6, "labelPadding": 19, "labelExpr": "datum.value == 0 ? '10⁰' : datum.value == -1 ? '10⁻¹' : datum.value == -2 ? '10⁻²' : datum.value == -3 ? '10⁻³' : '10⁻⁴'", "title": "pressure", "titlePadding": 4}},
       "detail": {"field": "poly"},
       "order": {"value": null}
     }},
    {"data": {"name": "jul"}, "transform": [{"filter": "datum.lvl == 0"}],
     "mark": {"type": "line", "interpolate": "linear-closed", "fill": "white", "stroke": "black", "strokeWidth": 1},
     "encoding": {
       "x": {"field": "lat", "type": "quantitative", "scale": {"domain": [-90, 90], "nice": false, "zero": false}, "axis": null},
       "y": {"field": "lp", "type": "quantitative", "scale": {"domain": [-4, 0], "reverse": true, "nice": false, "zero": false}, "axis": null},
       "detail": {"field": "poly"},
       "order": {"value": null}
     }},
    {"data": {"name": "jul"}, "transform": [{"filter": "datum.lvl == 2"}],
     "mark": {"type": "line", "interpolate": "linear-closed", "fill": "#fbcaca", "stroke": "black", "strokeWidth": 1},
     "encoding": {
       "x": {"field": "lat", "type": "quantitative", "scale": {"domain": [-90, 90], "nice": false, "zero": false},
             "axis": {"orient": "bottom", "values": [-80, -70, -50, -40, -20, -10, 10, 20, 40, 50, 70, 80], "tickSize": -4, "labels": false, "title": null}},
       "y": {"field": "lp", "type": "quantitative", "scale": {"domain": [-4, 0], "reverse": true, "nice": false, "zero": false},
             "axis": {"orient": "right", "values": [-3.63, -2.14, -0.74], "tickSize": -6, "labelPadding": 13, "labelExpr": "datum.value < -3 ? '100' : datum.value < -1.5 ? '80' : '60'", "title": "mean altitude", "titleAngle": 270, "titleBaseline": "top", "titlePadding": 10}},
       "detail": {"field": "poly"},
       "order": {"value": null}
     }},
    {"data": {"name": "jul"}, "transform": [{"filter": "datum.lvl == 3"}],
     "mark": {"type": "line", "interpolate": "linear-closed", "fill": "#f9b0b0", "stroke": "black", "strokeWidth": 1},
     "encoding": {
       "x": {"field": "lat", "type": "quantitative", "scale": {"domain": [-90, 90], "nice": false, "zero": false},
             "axis": {"orient": "top", "values": [-80, -70, -60, -50, -40, -30, -20, -10, 0, 10, 20, 30, 40, 50, 60, 70, 80], "tickSize": -4, "labels": false, "title": null}},
       "y": {"field": "lp", "type": "quantitative", "scale": {"domain": [-4, 0], "reverse": true, "nice": false, "zero": false}, "axis": null},
       "detail": {"field": "poly"},
       "order": {"value": null}
     }},
    {"data": {"name": "jul"}, "transform": [{"filter": "datum.lvl == 4"}],
     "mark": {"type": "line", "interpolate": "linear-closed", "fill": "#f69797", "stroke": "black", "strokeWidth": 1},
     "encoding": {
       "x": {"field": "lat", "type": "quantitative", "scale": {"domain": [-90, 90], "nice": false, "zero": false}, "axis": null},
       "y": {"field": "lp", "type": "quantitative", "scale": {"domain": [-4, 0], "reverse": true, "nice": false, "zero": false}, "axis": null},
       "detail": {"field": "poly"},
       "order": {"value": null}
     }},
    {"data": {"values": [{"lat": -82.6, "lp": -2.06}]},
     "mark": {"type": "text", "text": "10", "fontSize": 18, "angle": 80, "align": "center", "baseline": "middle", "color": "black"},
     "encoding": {
       "x": {"field": "lat", "type": "quantitative", "scale": {"domain": [-90, 90], "nice": false, "zero": false}, "axis": null},
       "y": {"field": "lp", "type": "quantitative", "scale": {"domain": [-4, 0], "reverse": true, "nice": false, "zero": false}, "axis": null}
     }},
    {"data": {"values": [{"lat": -52.1, "lp": -2.70}]},
     "mark": {"type": "text", "text": "10", "fontSize": 18, "angle": 70, "align": "center", "baseline": "middle", "color": "black"},
     "encoding": {
       "x": {"field": "lat", "type": "quantitative", "scale": {"domain": [-90, 90], "nice": false, "zero": false}, "axis": null},
       "y": {"field": "lp", "type": "quantitative", "scale": {"domain": [-4, 0], "reverse": true, "nice": false, "zero": false}, "axis": null}
     }},
    {"data": {"values": [{"lat": 58.5, "lp": -3.02}]},
     "mark": {"type": "text", "text": "10", "fontSize": 18, "angle": 50, "align": "center", "baseline": "middle", "color": "black"},
     "encoding": {
       "x": {"field": "lat", "type": "quantitative", "scale": {"domain": [-90, 90], "nice": false, "zero": false}, "axis": null},
       "y": {"field": "lp", "type": "quantitative", "scale": {"domain": [-4, 0], "reverse": true, "nice": false, "zero": false}, "axis": null}
     }}
  ],
  "resolve": {"axis": {"x": "independent", "y": "independent"}}
}
]
}
